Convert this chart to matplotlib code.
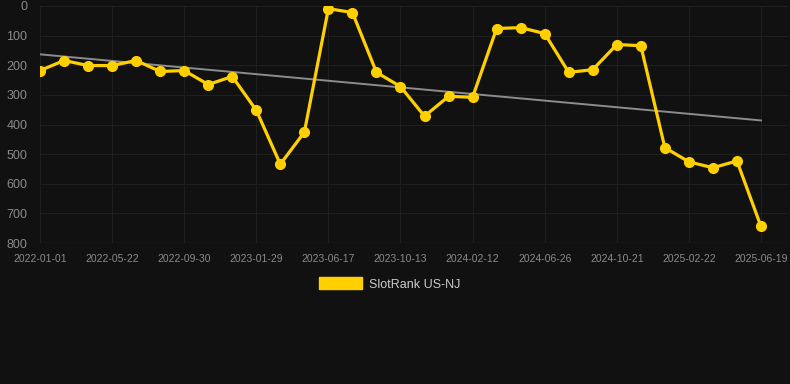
import numpy as np
import matplotlib.pyplot as plt
from matplotlib.patches import Patch

plt.rcParams["font.family"] = ["Liberation Sans", "DejaVu Sans"]

# rank por punto (31 puntos, eje de categorias)
rank = [218, 184, 201, 201, 184, 221, 218, 265, 238, 352,
        534, 426, 9, 22, 224, 272, 372, 305, 308, 76,
        73, 93, 224, 215, 130, 134, 478, 526, 546, 523, 744]
tick_labels = ["2022-01-01", "2022-05-22", "2022-09-30", "2023-01-29",
               "2023-06-17", "2023-10-13", "2024-02-12", "2024-06-26",
               "2024-10-21", "2025-02-22", "2025-06-19"]
y_ticks = [0, 100, 200, 300, 400, 500, 600, 700, 800]
series_name = "SlotRank US-NJ"

BG = "#111111"
GOLD = "#ffd000"
GRID = "#1f1f1f"
TXT = "#8a8a8a"

x = np.arange(len(rank))
coef = np.polyfit(x, rank, 1)
trend = np.polyval(coef, x)

fig = plt.figure(figsize=(7.9, 3.84), dpi=100, facecolor=BG)
ax = fig.add_axes([40 / 790, 1 - 243 / 384, 748 / 790, 237 / 384])
ax.set_facecolor(BG)

ax.plot(x, trend, color="#8c8c8c", lw=1.4, zorder=2)
ax.plot(x, rank, color=GOLD, lw=2.3, marker="o", ms=7.0, zorder=3)

ax.set_xlim(0, 30 + 27 / 24)
ax.set_ylim(800, 0)
ax.set_yticks(y_ticks)
ax.set_xticks(x[::3])
ax.set_xticklabels(tick_labels)
ax.tick_params(colors=TXT, labelsize=7.5, length=0, pad=8)
ax.tick_params(axis="y", labelsize=9, pad=9)
ax.grid(True, color=GRID, lw=0.8)
for s in ax.spines.values():
    s.set_visible(False)
ax.axhline(800, color="#2a2a2a", lw=0.9, zorder=1)

leg = fig.legend(handles=[Patch(facecolor=GOLD, edgecolor=GOLD)], labels=[series_name],
                 loc="center", bbox_to_anchor=(390 / 790, 1 - 284 / 384),
                 frameon=False, fontsize=9, handlelength=3.4, handleheight=1.1,
                 handletextpad=0.6, labelcolor="#cccccc")

fig.savefig("out.png", dpi=100, facecolor=BG)
